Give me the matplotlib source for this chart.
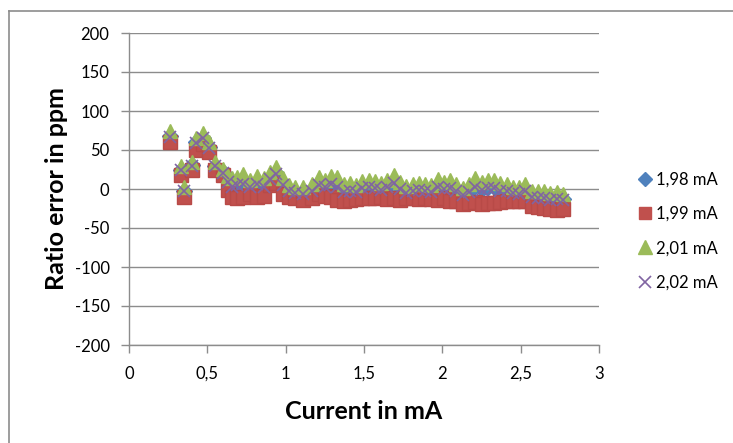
import matplotlib
matplotlib.use("Agg")
from matplotlib import pyplot as plt
from matplotlib.lines import Line2D

# current setpoints (mA)
current = [0.26, 0.33, 0.35, 0.40, 0.43, 0.47, 0.51, 0.55, 0.60, 0.63,
           0.66, 0.69, 0.73, 0.77, 0.82, 0.86, 0.90, 0.94, 0.98, 1.02,
           1.06, 1.11, 1.17, 1.21, 1.25, 1.29, 1.33, 1.37, 1.41, 1.45,
           1.49, 1.53, 1.57, 1.61, 1.65, 1.69, 1.73, 1.77, 1.81, 1.85,
           1.89, 1.93, 1.97, 2.01, 2.05, 2.09, 2.13, 2.17, 2.21, 2.25,
           2.29, 2.33, 2.37, 2.41, 2.45, 2.49, 2.53, 2.57, 2.61, 2.65,
           2.69, 2.73, 2.77]

# ratio error in ppm, one list per reference current
err_199 = [60, 18, -10, 25, 50, 58, 47, 25, 18, -1,
           -10, -12, -10, -6, -10, -9, 5, 8, -6, -10,
           -12, -14, -12, -6, -9, -10, -14, -15, -14, -13,
           -12, -11, -12, -10, -13, -12, -14, -12, -12, -13,
           -12, -13, -14, -12, -15, -16, -19, -18, -17, -19,
           -18, -18, -17, -16, -15, -16, -16, -22, -23, -24,
           -26, -27, -26]
err_201 = [74, 30, 3, 35, 66, 72, 60, 35, 26, 17,
           14, 16, 19, 12, 17, 14, 22, 28, 14, 5,
           3, 2, 6, 15, 12, 17, 15, 6, 8, 5,
           10, 12, 10, 8, 12, 18, 9, 4, 6, 8,
           7, 5, 13, 9, 11, 6, 1, 6, 14, 9,
           12, 11, 8, 7, 3, 2, 6, -2, -2, -3,
           -5, -4, -6]
err_198 = [68, 25, -2, 31, 60, 66, 54, 30, 22, 10,
           4, 6, 8, 4, 7, 4, 14, 20, 6, -2,
           -4, -5, -2, 6, 3, 8, 4, -3, -1, -3,
           2, 4, 2, 0, 3, 9, 1, -4, -2, 0,
           -1, -3, 4, 1, 2, -2, -7, -3, 4, 0,
           2, 2, -1, -1, -4, -5, -1, -9, -10, -11,
           -13, -12, -13]
err_202 = [67, 24, -3, 30, 59, 65, 53, 29, 21, 9,
           3, 5, 7, 3, 6, 3, 13, 19, 5, -3,
           -5, -6, -3, 5, 2, 7, 3, -4, -2, -4,
           1, 3, 1, -1, 2, 8, 0, -5, -3, -1,
           -2, -4, 3, 0, 1, -3, -8, -4, 3, -1,
           1, 1, -2, -2, -5, -6, -2, -10, -11, -12,
           -14, -13, -14]

blue, red, green, purple = "#4F81BD", "#C0504D", "#9BBB59", "#8064A2"

plt.rcParams['font.family'] = ['Lato', 'DejaVu Sans']
plt.rcParams['axes.unicode_minus'] = False

fig = plt.figure(figsize=(7.33, 4.43), dpi=100)
ax = fig.add_axes([129 / 733, 1 - 345 / 443, 470 / 733, 312 / 443])

ax.plot(current, err_198, ls="none", marker="D", ms=8, color=blue,
        mec=blue)
ax.plot(current, err_199, ls="none", marker="s", ms=9.5, color=red,
        mec="#B84A47")
ax.plot(current, err_201, ls="none", marker="^", ms=10, color=green,
        mec=green)
ax.plot(current, err_202, ls="none", marker="x", ms=9, color=purple,
        mew=1.2)

ax.set_xlim(0, 3)
ax.set_ylim(-200, 200)
ax.set_xticks([0, 0.5, 1, 1.5, 2, 2.5, 3])
ax.set_xticklabels(["0", "0,5", "1", "1,5", "2", "2,5", "3"])
ax.set_yticks(range(-200, 201, 50))
ax.yaxis.grid(True, color="#8C8C8C", lw=1)
ax.set_axisbelow(True)

for s in ["top", "right"]:
    ax.spines[s].set_visible(False)
for s in ["left", "bottom"]:
    ax.spines[s].set_color("#8C8C8C")
    ax.spines[s].set_linewidth(1)
ax.tick_params(axis="both", colors="#8C8C8C", labelcolor="black",
               labelsize=12, length=6, width=1, direction="out")
ax.tick_params(axis="x", pad=9)
ax.tick_params(axis="y", pad=8)

ax.set_xlabel("Current in mA", fontsize=18, fontweight="bold", labelpad=13)
ax.set_ylabel("Ratio error in ppm", fontsize=18, fontweight="bold",
              labelpad=5)

handles = [
    Line2D([], [], ls="none", marker="D", ms=7, color=blue),
    Line2D([], [], ls="none", marker="s", ms=9, color=red),
    Line2D([], [], ls="none", marker="^", ms=9.5, color=green),
    Line2D([], [], ls="none", marker="x", ms=8.5, color=purple, mew=1.2),
]
fig.legend(handles, ["1,98 mA", "1,99 mA", "2,01 mA", "2,02 mA"],
           loc="upper left", bbox_to_anchor=(622 / 733, 1 - 160 / 443),
           frameon=False, fontsize=12, handletextpad=0.05,
           labelspacing=1.1, handlelength=1.3, borderpad=0.2)

# chart border
fig.add_artist(Line2D([9 / 733, 9 / 733], [0, 1 - 10.5 / 443],
                      transform=fig.transFigure, color="#8C8C8C", lw=1.2))
fig.add_artist(Line2D([9 / 733, 1], [1 - 10.5 / 443, 1 - 10.5 / 443],
                      transform=fig.transFigure, color="#8C8C8C", lw=1.2))

fig.savefig("out.png", dpi=100)
